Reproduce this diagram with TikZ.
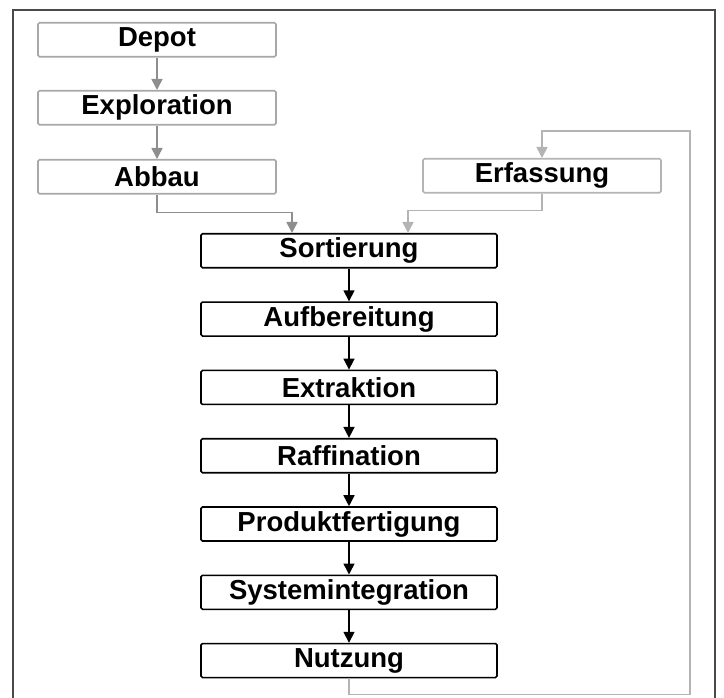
\documentclass[tikz,border=0pt]{standalone}
\usepackage{fontspec}
\setmainfont{Liberation Sans}
\usetikzlibrary{arrows.meta,positioning}
\definecolor{srcgray}{HTML}{8E8E8E}
\definecolor{srcline}{HTML}{A8A8A8}
\definecolor{recgray}{HTML}{B4B4B4}
\definecolor{framegray}{HTML}{4A4A4A}

\begin{document}
\begin{tikzpicture}[x=1pt,y=-1pt,font=\fontsize{27.5}{30}\selectfont\bfseries,
    stage/.style={draw,line width=1.6pt,rounded corners=1.5pt,minimum height=34pt,inner sep=0pt},
    chain/.style={stage,minimum width=296pt},
    source/.style={stage,draw=srcline,minimum width=238pt},
    flow/.style={-{Triangle[length=11pt,width=11pt]},line width=1.6pt}]
  \useasboundingbox (0,0) rectangle (724,698);
  \draw[framegray,line width=1.2pt] (13,698) |- (715,10) -- (715,698);
  % primary sources
  \node[source,anchor=north] (depot) at (157,22) {Depot};
  \node[source,below=32.4pt of depot] (explo) {Exploration};
  \node[source,below=33.4pt of explo] (abbau) {Abbau};
  \node[source,draw=recgray,anchor=north] (erfass) at (542,158) {Erfassung};
  % processing chain
  \node[chain,anchor=north] (sort) at (349,233) {Sortierung};
  \node[chain,below=32.7pt of sort] (aufb) {Aufbereitung};
  \node[chain,below=32.7pt of aufb] (extr) {Extraktion};
  \node[chain,below=32.7pt of extr] (raff) {Raffination};
  \node[chain,below=32.7pt of raff] (prod) {Produktfertigung};
  \node[chain,below=32.7pt of prod] (sysint) {Systemintegration};
  \node[chain,below=32.7pt of sysint] (nutz) {Nutzung};
  \coordinate (ret) at (690,131);
  \draw[flow,srcgray] (depot) -- (explo);
  \draw[flow,srcgray] (explo) -- (abbau);
  \draw[flow,srcgray] (abbau.south) -- ++(0,18) -| ([xshift=-57pt]sort.north);
  \draw[flow,recgray] (erfass.south) -- ++(0,17) -| ([xshift=59pt]sort.north);
  \draw[flow] (sort) -- (aufb);
  \draw[flow] (aufb) -- (extr);
  \draw[flow] (extr) -- (raff);
  \draw[flow] (raff) -- (prod);
  \draw[flow] (prod) -- (sysint);
  \draw[flow] (sysint) -- (nutz);
  \draw[flow,recgray] (nutz.south) -- ++(0,16) -| (ret) -| (erfass.north);
\end{tikzpicture}
\end{document}
